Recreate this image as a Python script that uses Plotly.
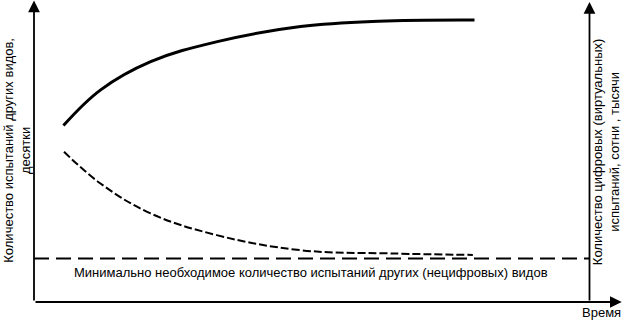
import plotly.graph_objects as go

# Time axis (left axis at 0, right axis at 100) and values (bottom axis at 0)
digital_t = [5.3, 12.0, 21.0, 33.0, 48.0, 62.0, 79.3]
digital_v = [58.8, 70.7, 80.1, 86.8, 91.8, 93.6, 94.0]

other_t = [5.4, 11.9, 20.9, 32.9, 47.9, 64.1, 79.0]
other_v = [50.1, 39.6, 29.6, 22.3, 17.3, 16.2, 15.7]

min_t = [0, 100]
min_v = [14.5, 14.5]

left_title = "Количество испытаний других видов,<br>десятки"
right_title = "Количество цифровых (виртуальных)<br>испытаний, сотни , тысячи"
min_label = "Минимально необходимое количество испытаний других (нецифровых) видов"
x_label = "Время"

FONT = "Liberation Sans, Arial, sans-serif"
FS = 13

fig = go.Figure()
fig.add_trace(go.Scatter(x=digital_t, y=digital_v, mode="lines",
                         line=dict(color="black", width=3, shape="spline", smoothing=1.1),
                         hoverinfo="skip"))
fig.add_trace(go.Scatter(x=other_t, y=other_v, mode="lines",
                         line=dict(color="black", width=2, shape="spline", smoothing=1.1,
                                   dash="8px,3px"),
                         hoverinfo="skip"))
fig.add_trace(go.Scatter(x=min_t, y=min_v, mode="lines",
                         line=dict(color="black", width=2, dash="15px,7px"),
                         hoverinfo="skip"))

arrow = dict(showarrow=True, arrowhead=2, arrowsize=1.3, arrowwidth=1.8,
             arrowcolor="black", axref="x", ayref="y", text="")
# left axis
fig.add_annotation(x=0, y=100.5, ax=0, ay=0, **arrow)
# right axis
fig.add_annotation(x=100, y=100.0, ax=100, ay=0, **arrow)
# bottom axis
fig.add_annotation(x=105.8, y=0, ax=0, ay=0, **arrow)

fig.add_annotation(x=-3.2, y=50.5, text=left_title, textangle=-90, showarrow=False,
                   font=dict(family=FONT, size=FS, color="black"))
fig.add_annotation(x=103.0, y=50.0, text=right_title, textangle=-90, showarrow=False,
                   font=dict(family=FONT, size=FS, color="black"))
fig.add_annotation(x=49.9, y=10.0, text=min_label, showarrow=False,
                   font=dict(family=FONT, size=FS, color="black"))
fig.add_annotation(x=102.2, y=-3.4, text=x_label, showarrow=False,
                   font=dict(family=FONT, size=FS, color="black"))

fig.update_layout(
    width=623, height=321,
    margin=dict(l=0, r=0, t=0, b=0),
    paper_bgcolor="white", plot_bgcolor="white",
    showlegend=False,
    xaxis=dict(range=[-6.12, 106.03], visible=False, fixedrange=True),
    yaxis=dict(range=[-6.33, 100.67], visible=False, fixedrange=True),
)

fig.write_html("out.html")
